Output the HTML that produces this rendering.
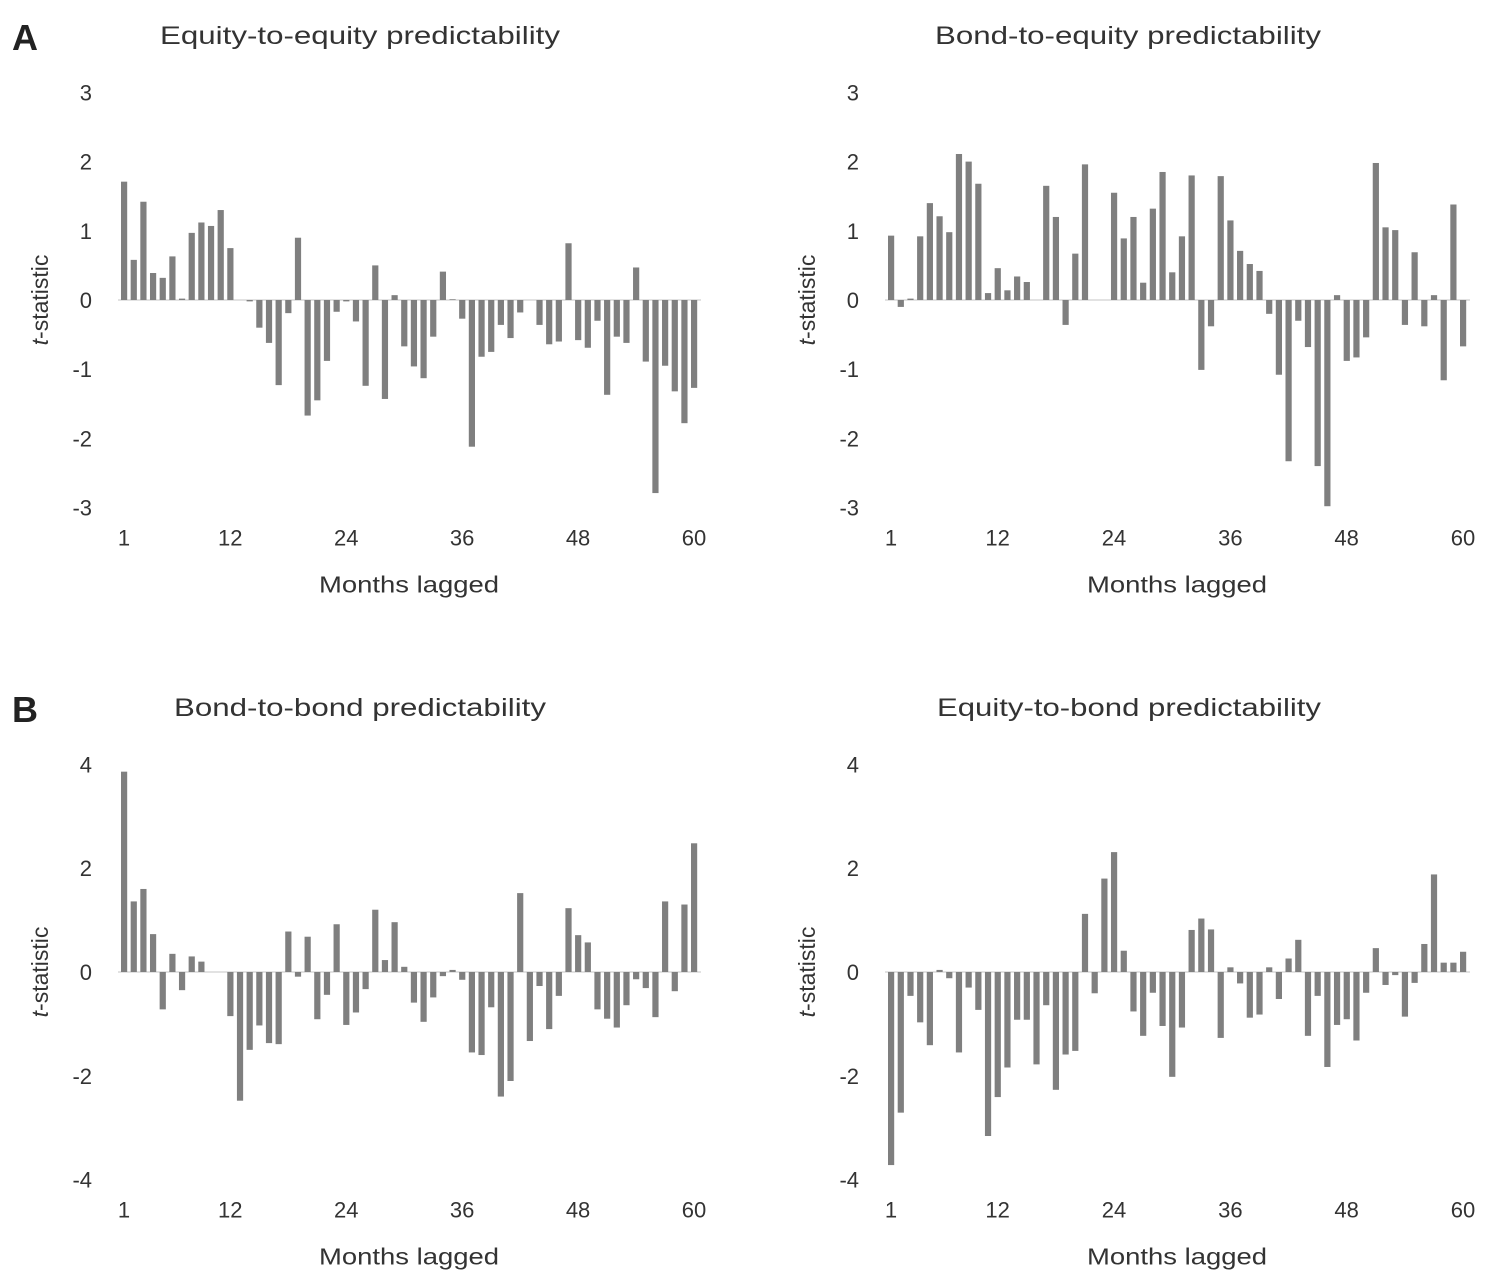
<!DOCTYPE html>
<html><head><meta charset="utf-8"><style>
html,body{margin:0;padding:0;background:#fff;}
svg{display:block;font-family:"Liberation Sans",sans-serif;}
</style></head><body>
<svg id="fig" width="1497" height="1284" viewBox="0 0 1497 1284">
<text x="12" y="50" font-size="36" font-weight="bold" fill="#222">A</text>
<text x="12" y="722" font-size="36" font-weight="bold" fill="#222">B</text>
</svg>
<script>
const months = Array.from({length:60},(_,i)=>i+1);
const eqEq = [1.71,0.58,1.42,0.39,0.32,0.63,0.02,0.97,1.12,1.07,1.3,0.75,0,-0.02,-0.4,-0.62,-1.23,-0.19,0.9,-1.67,-1.45,-0.88,-0.17,-0.02,-0.31,-1.24,0.5,-1.43,0.07,-0.67,-0.96,-1.13,-0.53,0.41,0.01,-0.27,-2.12,-0.82,-0.75,-0.36,-0.55,-0.18,0,-0.36,-0.64,-0.6,0.82,-0.58,-0.69,-0.3,-1.37,-0.53,-0.62,0.47,-0.89,-2.79,-0.95,-1.32,-1.78,-1.27];
const bondEq = [0.93,-0.1,0.02,0.92,1.4,1.21,0.98,2.11,2.0,1.68,0.1,0.46,0.14,0.34,0.26,0,1.65,1.2,-0.36,0.67,1.96,0,0,1.55,0.89,1.2,0.25,1.32,1.85,0.4,0.92,1.8,-1.01,-0.38,1.79,1.15,0.71,0.52,0.42,-0.2,-1.08,-2.33,-0.3,-0.68,-2.4,-2.98,0.07,-0.88,-0.83,-0.54,1.98,1.05,1.01,-0.36,0.69,-0.38,0.07,-1.16,1.38,-0.67];
const bondBond = [3.86,1.36,1.6,0.73,-0.72,0.35,-0.35,0.3,0.2,0,0,-0.85,-2.48,-1.5,-1.03,-1.37,-1.39,0.78,-0.09,0.68,-0.91,-0.44,0.92,-1.02,-0.78,-0.33,1.2,0.23,0.96,0.1,-0.59,-0.96,-0.49,-0.08,0.04,-0.15,-1.55,-1.6,-0.68,-2.4,-2.1,1.52,-1.33,-0.27,-1.1,-0.46,1.23,0.71,0.57,-0.72,-0.9,-1.07,-0.64,-0.14,-0.31,-0.87,1.36,-0.37,1.3,2.48];
const eqBond = [-3.72,-2.71,-0.46,-0.97,-1.41,0.04,-0.12,-1.55,-0.3,-0.73,-3.16,-2.41,-1.84,-0.92,-0.92,-1.78,-0.64,-2.27,-1.59,-1.52,1.12,-0.41,1.8,2.31,0.41,-0.76,-1.23,-0.4,-1.04,-2.02,-1.07,0.81,1.03,0.82,-1.27,0.09,-0.22,-0.88,-0.82,0.09,-0.52,0.26,0.62,-1.23,-0.46,-1.83,-1.02,-0.91,-1.32,-0.4,0.46,-0.25,-0.06,-0.86,-0.21,0.54,1.88,0.18,0.18,0.39];
const xTickLabels = [1,12,24,36,48,60];
const yTicksA = [3,2,1,0,-1,-2,-3];
const yTicksB = [4,2,0,-2,-4];
const titles = ["Equity-to-equity predictability","Bond-to-equity predictability","Bond-to-bond predictability","Equity-to-bond predictability"];

const NS="http://www.w3.org/2000/svg";
const svg=document.getElementById('fig');
function mk(tag,attrs,parent){const e=document.createElementNS(NS,tag);for(const k in attrs)e.setAttribute(k,attrs[k]);(parent||svg).appendChild(e);return e;}

function panel(key,vals,ticks,x1,x60,zeroY,unitPx,titleText,titleX,titleY,titleW){
  const g=mk('g',{});
  
  
  const sx=m=>x1+(m-1)*(x60-x1)/59;
  const sy=v=>zeroY-v*unitPx;
  const t=mk('text',{x:titleX,y:titleY,'font-size':25,fill:'#333',textLength:titleW,lengthAdjust:'spacingAndGlyphs'},g);
  t.textContent=titleText;
  
  
  ticks.forEach(v=>{
    const tl=mk('text',{x:x1-32,y:sy(v)+8,'font-size':22,fill:'#333','text-anchor':'end'},g);
    tl.textContent=v;
    
    
  });
  const yMin=sy(ticks[ticks.length-1]);
  xTickLabels.forEach(m=>{
    const tl=mk('text',{x:sx(m),y:yMin+38,'font-size':22,fill:'#333','text-anchor':'middle'},g);
    tl.textContent=m;
    
    
  });
  const xt=mk('text',{x:(x1+x60)/2,y:yMin+85,'font-size':23,fill:'#333','text-anchor':'middle',textLength:180,lengthAdjust:'spacingAndGlyphs'},g);
  xt.textContent='Months lagged';
  
  
  const yt=mk('text',{x:0,y:0,'font-size':23,fill:'#333','text-anchor':'middle',transform:`translate(${x1-76},${zeroY}) rotate(-90)`},g);
  yt.innerHTML='<tspan font-style="italic">t</tspan>-statistic';
  
  
  const zl=mk('line',{x1:x1-6,x2:x60+7,y1:zeroY,y2:zeroY,stroke:'#d9d9d9','stroke-width':1.5},g);
  
  
  vals.forEach((v,i)=>{
    const y=Math.min(sy(v),zeroY), h=Math.abs(sy(v)-zeroY);
    const r=mk('rect',{x:sx(months[i])-3,y:y,width:6.2,height:Math.max(h,0.01),fill:'#7f7f7f'},g);
    
    
  });
}
panel('equity-to-equity',eqEq,yTicksA,124,694,300,69.2,titles[0],160,44,400);
panel('bond-to-equity',bondEq,yTicksA,891,1463,300,69.2,titles[1],935,44,386);
panel('bond-to-bond',bondBond,yTicksB,124,694,972,51.9,titles[2],174,716,372);
panel('equity-to-bond',eqBond,yTicksB,891,1463,972,51.9,titles[3],937,716,384);
</script>
</body></html>
